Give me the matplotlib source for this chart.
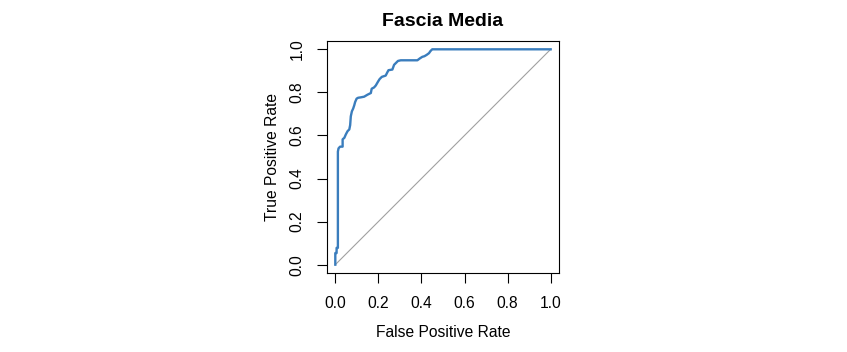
import numpy as np
import matplotlib.pyplot as plt

plt.rcParams['font.family'] = ['Liberation Sans', 'DejaVu Sans']

# ROC curve vertices
fpr = [0.0, 0.0, 0.006, 0.006, 0.012, 0.012, 0.015, 0.022, 0.034, 0.034, 0.042, 0.049,
       0.057, 0.065, 0.069, 0.072, 0.077, 0.083, 0.088, 0.092, 0.099, 0.106, 0.119,
       0.134, 0.149, 0.165, 0.169, 0.180, 0.188, 0.199, 0.206, 0.216, 0.234, 0.242,
       0.247, 0.265, 0.273, 0.280, 0.291, 0.304, 0.381, 0.393, 0.404, 0.414, 0.424,
       0.435, 0.442, 0.450, 1.0]
tpr = [0.0, 0.054, 0.054, 0.078, 0.078, 0.525, 0.540, 0.548, 0.548, 0.582, 0.589, 0.605,
       0.620, 0.628, 0.648, 0.689, 0.712, 0.725, 0.740, 0.755, 0.771, 0.775, 0.777,
       0.780, 0.789, 0.797, 0.817, 0.823, 0.832, 0.851, 0.862, 0.872, 0.878, 0.894,
       0.903, 0.906, 0.928, 0.935, 0.946, 0.949, 0.949, 0.958, 0.965, 0.968, 0.974,
       0.982, 0.992, 1.0, 1.0]

fig = plt.figure(figsize=(8.47, 3.52), dpi=100)
ax = fig.add_axes([0.3857, 0.2236, 0.2746, 0.6608])

ax.plot([0, 1], [0, 1], color='#a0a0a0', lw=0.8)
ax.plot(fpr, tpr, color='#3a7dbd', lw=1.7)

ax.set_xlim(-0.04, 1.04)
ax.set_ylim(-0.04, 1.04)
ticks = [0.0, 0.2, 0.4, 0.6, 0.8, 1.0]
ax.set_xticks(ticks)
ax.set_yticks(ticks)
ax.set_xticklabels(['0.0', '0.2', '0.4', '0.6', '0.8', '1.0'])
ax.set_yticklabels(['0.0', '0.2', '0.4', '0.6', '0.8', '1.0'], rotation=90, va='center')
ax.tick_params(direction='out', length=7, width=0.8, labelsize=11.25, pad=9)
for s in ax.spines.values():
    s.set_linewidth(0.8)

ax.set_xlabel('False Positive Rate', fontsize=11.25)
ax.set_ylabel('True Positive Rate', fontsize=11.25)
ax.xaxis.set_label_coords(0.5, -0.222)
ax.yaxis.set_label_coords(-0.202, 0.5)
fig.text(0.523, 0.938, 'Fascia Media', ha='center', va='center',
         fontsize=14, fontweight='bold')

fig.savefig('out.png', dpi=100)
